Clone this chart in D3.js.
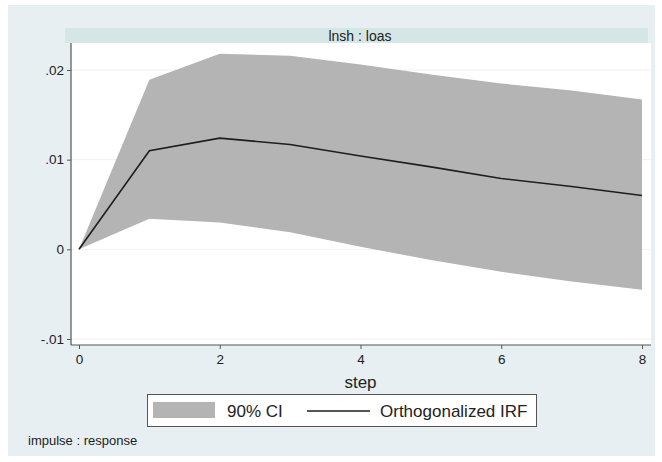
<!DOCTYPE html>
<html>
<head>
<meta charset="utf-8">
<script src="https://cdn.jsdelivr.net/npm/d3@7"></script>
<style>
  body { margin: 0; background: #fff; }
  svg { display: block; font-family: "Liberation Sans", Arial, sans-serif; }
</style>
</head>
<body>
<div class="chart"></div>
<script>
// data
var steps = [0, 1, 2, 3, 4, 5, 6, 7, 8];
var irf = [0, 0.0110, 0.0124, 0.0117, 0.0104, 0.0092, 0.0079, 0.0070, 0.0060];
var ciLower = [0, 0.0034, 0.0030, 0.0019, 0.0003, -0.0012, -0.0025, -0.0036, -0.0045];
var ciUpper = [0, 0.0189, 0.0218, 0.0216, 0.0206, 0.0195, 0.0185, 0.0177, 0.0167];
var yTicks = [-0.01, 0, 0.01, 0.02];
var yTickLabels = ["-.01", "0", ".01", ".02"];
var xTicks = [0, 2, 4, 6, 8];
var panelTitle = "lnsh : loas";
var legendLabels = ["90% CI", "Orthogonalized IRF"];

var W = 662, H = 462;
var plot = {left: 71, right: 651, top: 43, bottom: 345};

var svg = d3.select(".chart").append("svg")
    .attr("width", W)
    .attr("height", H);

// graph region
svg.append("rect")
    .attr("x", 8).attr("y", 5)
    .attr("width", 647).attr("height", 451)
    .attr("fill", "#e7eff2");

// strip with panel title
svg.append("rect")
    .attr("x", 65).attr("y", 28)
    .attr("width", 583).attr("height", 15)
    .attr("fill", "#d5e6e6");
svg.append("text")
    .attr("x", 360).attr("y", 41)
    .attr("text-anchor", "middle")
    .attr("font-size", 14)
    .attr("fill", "#222")
    .text(panelTitle);

// plot region
svg.append("rect")
    .attr("x", plot.left).attr("y", plot.top)
    .attr("width", plot.right - plot.left).attr("height", plot.bottom - plot.top)
    .attr("fill", "#fff");

var x = d3.scaleLinear().domain([0, 8]).range([79, 642]);
var y = d3.scaleLinear().domain([-0.01, 0.02]).range([339, 70]);

// faint gridlines
svg.append("g").selectAll("line")
    .data(yTicks)
    .enter().append("line")
    .attr("x1", plot.left).attr("x2", plot.right)
    .attr("y1", function(d) { return y(d); })
    .attr("y2", function(d) { return y(d); })
    .attr("stroke", "#eef1f2")
    .attr("stroke-width", 1);

// confidence band
var area = d3.area()
    .x(function(d) { return x(d); })
    .y0(function(d, i) { return y(ciLower[i]); })
    .y1(function(d, i) { return y(ciUpper[i]); });

svg.append("path")
    .datum(steps)
    .attr("d", area)
    .attr("fill", "#b4b4b4");

// IRF line
var line = d3.line()
    .x(function(d) { return x(d); })
    .y(function(d, i) { return y(irf[i]); });

svg.append("path")
    .datum(steps)
    .attr("d", line)
    .attr("fill", "none")
    .attr("stroke", "#1e1e1e")
    .attr("stroke-width", 1.6);

// axes
var yAxis = d3.axisLeft(y)
    .tickValues(yTicks)
    .tickSize(4)
    .tickPadding(3)
    .tickFormat(function(d, i) { return yTickLabels[i]; });

var gy = svg.append("g")
    .attr("transform", "translate(" + plot.left + ",0)")
    .call(yAxis);
gy.select(".domain").attr("d", "M0," + plot.top + "V" + plot.bottom);

var xAxis = d3.axisBottom(x)
    .tickValues(xTicks)
    .tickSize(4)
    .tickPadding(5)
    .tickFormat(d3.format("d"));

var gx = svg.append("g")
    .attr("transform", "translate(0," + plot.bottom + ")")
    .call(xAxis);
gx.select(".domain").attr("d", "M" + plot.left + ",0H" + plot.right);

svg.selectAll(".domain").attr("stroke", "#555").attr("stroke-width", 1.2);
svg.selectAll(".tick line").attr("stroke", "#555");
svg.selectAll(".tick text")
    .attr("font-size", 13.5)
    .attr("font-family", "\"Liberation Sans\", Arial, sans-serif")
    .attr("fill", "#222");

svg.append("text")
    .attr("x", (x(0) + x(8)) / 2).attr("y", 388)
    .attr("text-anchor", "middle")
    .attr("font-size", 17)
    .attr("fill", "#222")
    .text("step");

// legend
var lg = svg.append("g");
lg.append("rect")
    .attr("x", 147.5).attr("y", 394.5)
    .attr("width", 389).attr("height", 32)
    .attr("fill", "#fff")
    .attr("stroke", "#555")
    .attr("stroke-width", 1);
lg.append("rect")
    .attr("x", 153).attr("y", 402)
    .attr("width", 62).attr("height", 16)
    .attr("fill", "#b4b4b4");
lg.append("text")
    .attr("x", 227).attr("y", 417)
    .attr("font-size", 17)
    .attr("fill", "#222")
    .text(legendLabels[0]);
lg.append("line")
    .attr("x1", 307).attr("x2", 370)
    .attr("y1", 411).attr("y2", 411)
    .attr("stroke", "#1e1e1e")
    .attr("stroke-width", 1.6);
lg.append("text")
    .attr("x", 380).attr("y", 417)
    .attr("font-size", 17)
    .attr("fill", "#222")
    .text(legendLabels[1]);

svg.append("text")
    .attr("x", 28).attr("y", 445)
    .attr("font-size", 13)
    .attr("fill", "#222")
    .text("impulse : response");
</script>
</body>
</html>
